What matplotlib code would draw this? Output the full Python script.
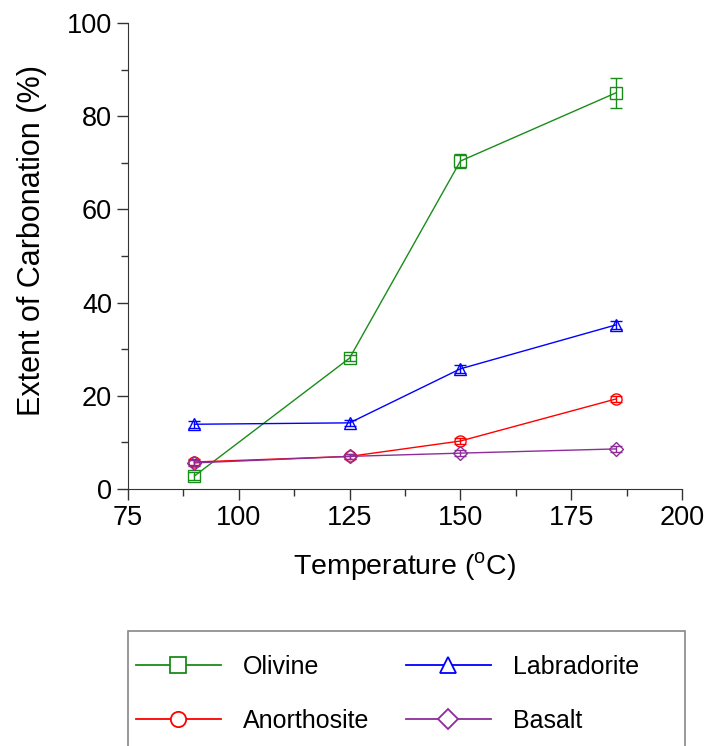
import matplotlib
matplotlib.use("Agg")
import matplotlib.pyplot as plt
from matplotlib.patches import Rectangle
from matplotlib.lines import Line2D
from matplotlib.ticker import MultipleLocator

plt.rcParams['font.family'] = ['Liberation Sans', 'DejaVu Sans']
plt.rcParams['mathtext.fontset'] = 'custom'
plt.rcParams['mathtext.rm'] = 'Liberation Sans'

# data
temps = [90, 125, 150, 185]
olivine = [2.8, 28.1, 70.4, 85.0]
olivine_err = [0.8, 0.6, 1.6, 3.3]
anorthosite = [5.8, 7.0, 10.3, 19.3]
anorthosite_err = [0.6, 0.5, 0.6, 0.6]
labradorite = [13.9, 14.2, 25.8, 35.2]
labradorite_err = [0.7, 0.7, 0.8, 0.8]
basalt = [5.6, 7.0, 7.7, 8.6]
basalt_err = [0.6, 0.6, 0.6, 0.6]

fig = plt.figure(figsize=(7.09, 7.46), dpi=100)
ax = fig.add_axes([0.1805, 0.3445, 0.7815, 0.6245])

series = [
    ("Olivine", olivine, olivine_err, "#1a8c1a", "s"),
    ("Anorthosite", anorthosite, anorthosite_err, "#ff0000", "o"),
    ("Labradorite", labradorite, labradorite_err, "#0000ff", "^"),
    ("Basalt", basalt, basalt_err, "#8c2d9a", "D"),
]
handles = {}
for name, vals, err, col, mk in series:
    ms = 8 if mk != "D" else 7
    ax.errorbar(temps, vals, yerr=err, color=col, marker=mk, ms=ms,
                mfc="none", mec=col, mew=1.0, lw=1.0, capsize=4,
                elinewidth=1.0, capthick=1.0)
    lms = 11 if mk != "D" else 10
    handles[name] = Line2D([], [], color=col, marker=mk, ms=lms, mfc="white",
                           mec=col, mew=1.3, lw=1.3)

ax.set_xlim(75, 200)
ax.set_ylim(0, 100)
ax.xaxis.set_major_locator(MultipleLocator(25))
ax.xaxis.set_minor_locator(MultipleLocator(12.5))
ax.yaxis.set_major_locator(MultipleLocator(20))
ax.yaxis.set_minor_locator(MultipleLocator(10))
ax.tick_params(which='major', direction='out', length=8, width=1, labelsize=19.5, colors='#333333', labelcolor='black')
ax.tick_params(which='minor', direction='out', length=5, width=1, colors='#333333')
ax.spines['top'].set_visible(False)
ax.spines['right'].set_visible(False)
for s in ['left', 'bottom']:
    ax.spines[s].set_color('#333333')
ax.set_xlabel(r"Temperature ($^{\mathrm{o}}$C)", fontsize=20.5, labelpad=14)
ax.set_ylabel("Extent of Carbonation (%)", fontsize=22, labelpad=14)
ax.yaxis.label.set_y(0.534)

# legend box, cut by the bottom edge as in the reference
fig.patches.append(Rectangle((128 / 709, -0.05), (685 - 128) / 709, 1 - 631 / 746 + 0.05,
                             transform=fig.transFigure, fill=False,
                             edgecolor='#888888', lw=1.2))
order = ["Olivine", "Anorthosite", "Labradorite", "Basalt"]
fig.legend([handles[n] for n in order], order, ncol=2, frameon=False,
           loc='upper left', bbox_to_anchor=(113 / 709, 1 - 632 / 746),
           fontsize=18, handlelength=3.4, handletextpad=0.9,
           columnspacing=1.45, labelspacing=1.2)

fig.savefig("out.png", dpi=100)
